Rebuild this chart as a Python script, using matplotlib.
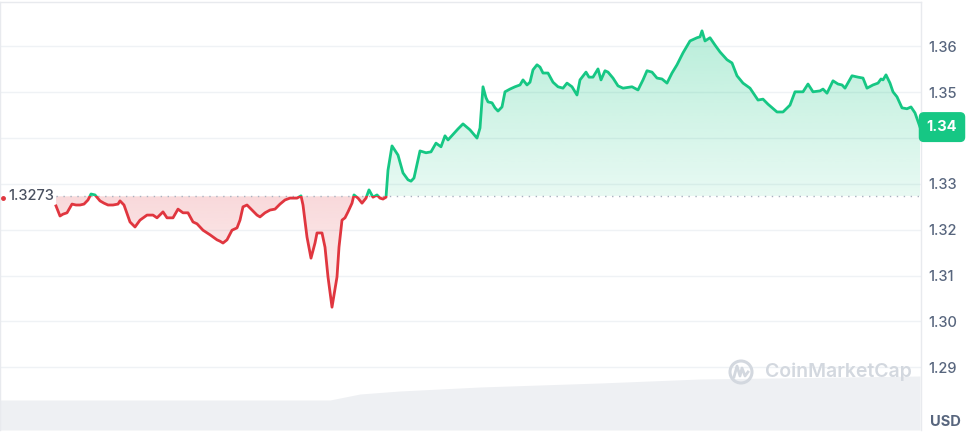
import numpy as np
import matplotlib.pyplot as plt
from matplotlib.path import Path
from matplotlib.patches import Rectangle, Ellipse
from matplotlib.lines import Line2D

plt.rcParams['font.family'] = ['Inter', 'DejaVu Sans']

# price samples (t = sample step from first point, roughly 1.7 min each)
t = [0, 4, 7, 11, 16, 20, 24, 28, 32, 35,
     39, 44, 48, 52, 57, 62, 64, 68, 74, 79,
     84, 91, 97, 101, 107, 111, 117, 122, 127, 132,
     137, 141, 147, 154, 161, 164, 167, 171, 176, 181,
     184, 187, 191, 196, 201, 204, 209, 214, 219, 224,
     229, 234, 241, 245, 247, 251, 255, 259, 261, 266,
     269, 272, 276, 281, 283, 286, 289, 292, 296, 298,
     302, 306, 310, 313, 317, 321, 324, 327, 330, 332,
     336, 342, 347, 352, 355, 358, 364, 370, 375, 380,
     385, 389, 392, 399, 402, 407, 414, 421, 424, 427,
     430, 432, 436, 439, 442, 446, 449, 454, 459, 464,
     467, 471, 474, 477, 481, 484, 487, 492, 497, 502,
     507, 511, 516, 521, 524, 530, 533, 537, 542, 545,
     549, 552, 557, 562, 567, 576, 582, 587, 591, 596,
     601, 606, 611, 616, 621, 627, 634, 641, 644, 646,
     649, 654, 659, 664, 671, 676, 681, 687, 694, 702,
     707, 712, 721, 727, 734, 739, 744, 747, 752, 757,
     764, 767, 771, 777, 782, 786, 789, 796, 802, 807,
     811, 817, 822, 825, 827, 830, 834, 837, 841, 846,
     851, 855, 859, 864]
price = [1.3252, 1.3230, 1.3234, 1.3237, 1.3256, 1.3254, 1.3254, 1.3256, 1.3265, 1.3278,
         1.3276, 1.3263, 1.3258, 1.3254, 1.3254, 1.3256, 1.3263, 1.3254, 1.3217, 1.3206,
         1.3221, 1.3232, 1.3232, 1.3226, 1.3239, 1.3226, 1.3226, 1.3245, 1.3237, 1.3237,
         1.3217, 1.3213, 1.3199, 1.3189, 1.3178, 1.3175, 1.3171, 1.3178, 1.3199, 1.3204,
         1.3221, 1.3250, 1.3254, 1.3243, 1.3232, 1.3228, 1.3237, 1.3243, 1.3245, 1.3256,
         1.3265, 1.3269, 1.3269, 1.3274, 1.3254, 1.3184, 1.3138, 1.3171, 1.3193, 1.3193,
         1.3162, 1.3097, 1.3031, 1.3097, 1.3162, 1.3221, 1.3226, 1.3239, 1.3258, 1.3276,
         1.3269, 1.3258, 1.3269, 1.3287, 1.3271, 1.3276, 1.3269, 1.3267, 1.3271, 1.3330,
         1.3383, 1.3363, 1.3324, 1.3309, 1.3306, 1.3313, 1.3372, 1.3368, 1.3370, 1.3389,
         1.3381, 1.3405, 1.3396, 1.3413, 1.3420, 1.3431, 1.3418, 1.3400, 1.3422, 1.3512,
         1.3488, 1.3479, 1.3477, 1.3466, 1.3459, 1.3468, 1.3501, 1.3507, 1.3512, 1.3516,
         1.3527, 1.3516, 1.3522, 1.3549, 1.3560, 1.3555, 1.3542, 1.3542, 1.3522, 1.3512,
         1.3509, 1.3520, 1.3512, 1.3494, 1.3527, 1.3544, 1.3533, 1.3533, 1.3551, 1.3527,
         1.3547, 1.3544, 1.3531, 1.3514, 1.3509, 1.3512, 1.3505, 1.3527, 1.3547, 1.3544,
         1.3531, 1.3529, 1.3520, 1.3542, 1.3560, 1.3586, 1.3612, 1.3619, 1.3621, 1.3634,
         1.3612, 1.3619, 1.3603, 1.3588, 1.3571, 1.3564, 1.3536, 1.3520, 1.3509, 1.3483,
         1.3485, 1.3474, 1.3457, 1.3457, 1.3472, 1.3501, 1.3501, 1.3501, 1.3518, 1.3501,
         1.3503, 1.3507, 1.3498, 1.3525, 1.3518, 1.3516, 1.3509, 1.3536, 1.3533, 1.3531,
         1.3509, 1.3516, 1.3520, 1.3529, 1.3527, 1.3538, 1.3520, 1.3501, 1.3490, 1.3466,
         1.3464, 1.3468, 1.3455, 1.3424]
assert len(t) == len(price)

open_price = 1.3273
open_label = "1.3273"
last_label = "1.34"
y_ticks = [1.29, 1.30, 1.31, 1.32, 1.33, 1.34, 1.35, 1.36]
y_labels = ["1.29", "1.30", "1.31", "1.32", "1.33", "", "1.35", "1.36"]

# background volume band (arbitrary units)
vol_t = [-56, 274, 304, 344, 424, 544, 644, 864]
vol = [30, 30, 36, 39, 43, 47, 51, 54]

GREEN = "#16c784"
RED = "#e0363f"
GRID = "#eff2f5"
TXT = "#58667e"

W, H = 978, 434
fig = plt.figure(figsize=(W / 100, H / 100), dpi=100)
rect = [0, 4 / H, 921 / W, 428 / H]

# volume band behind everything
axv = fig.add_axes(rect, zorder=0)
axv.fill_between(vol_t, vol, 0, color="#eef0f3", lw=0)
axv.set_xlim(-56, 865)
axv.set_ylim(0, 428)
axv.axis("off")

ax = fig.add_axes(rect, zorder=1)
ax.patch.set_alpha(0)
t_arr = np.array(t)
p_arr = np.array(price)


def grad_fill(mask, color, y_lo, y_hi, a_lo, a_hi):
    coll = ax.fill_between(t_arr, p_arr, open_price, where=mask, interpolate=True,
                           color="none", lw=0)
    path = Path.make_compound_path(*coll.get_paths())
    rgb = np.array(plt.matplotlib.colors.to_rgb(color))
    img = np.zeros((256, 1, 4))
    img[:, 0, :3] = rgb
    img[:, 0, 3] = np.linspace(a_lo, a_hi, 256)
    im = ax.imshow(img, extent=[t_arr[0], t_arr[-1], y_lo, y_hi], origin="lower",
                   aspect="auto", zorder=2, interpolation="bilinear")
    im.set_clip_path(path, transform=ax.transData)


grad_fill(p_arr >= open_price, GREEN, open_price, p_arr.max(), 0.10, 0.30)
grad_fill(p_arr <= open_price, RED, p_arr.min(), open_price, 0.06, 0.19)

# baseline at open price
ax.plot([t[0], t[-1]], [open_price, open_price], color="#a9b1bf", lw=1,
        linestyle=(0, (1, 4)), zorder=3)

above = Rectangle((-100, open_price), 1100, 1, transform=ax.transData)
below = Rectangle((-100, open_price - 1), 1100, 1, transform=ax.transData)
lg, = ax.plot(t, price, color=GREEN, lw=2.0, zorder=4, solid_joinstyle="round")
lg.set_clip_path(above)
lr, = ax.plot(t, price, color=RED, lw=2.0, zorder=4, solid_joinstyle="round")
lr.set_clip_path(below)

ax.set_xlim(-56, 865)
ax.set_ylim(1.2763, 1.3697)
ax.set_xticks([])
ax.yaxis.tick_right()
ax.set_yticks(y_ticks)
ax.set_yticklabels(y_labels)
ax.tick_params(axis="y", length=0, pad=5, labelsize=10.5, labelcolor=TXT)
for lab in ax.get_yticklabels():
    lab.set_fontweight("medium")
ax.grid(axis="y", color=GRID, lw=1)
ax.set_axisbelow(True)
for side in ["left", "top", "right"]:
    ax.spines[side].set_color("#e8eaee")
    ax.spines[side].set_linewidth(1)
ax.spines["bottom"].set_visible(False)

# open price label on the left
ax.text(-48, open_price, open_label, ha="left", va="center", fontsize=10.5,
        fontweight="medium", color="#4a5160", zorder=5)
ax.plot([-53], [open_price - 0.0004], marker="o", ms=2.5, color=RED, zorder=5,
        clip_on=False)

# current price badge
ax.text(942 / 921, price[-1], last_label, transform=ax.get_yaxis_transform(),
        ha="center", va="center", fontsize=10.5, fontweight="bold", color="white",
        bbox=dict(boxstyle="round,pad=0.5,rounding_size=0.3", fc=GREEN, ec=GREEN),
        zorder=6, clip_on=False)

fig.text(945 / W, 1 - 422 / H, "USD", ha="center", va="center", fontsize=10.5,
         fontweight="bold", color=TXT)

# watermark
wm = "#d3d8df"
fig.text(765 / W, 1 - 372 / H, "CoinMarketCap", ha="left", va="center",
         fontsize=14, fontweight="semibold", color=wm, zorder=3)
fig.add_artist(Ellipse((741 / W, 1 - 372 / H), 22 / W, 22 / H, fill=False,
                       ec=wm, lw=2.2, transform=fig.transFigure, zorder=3))
fig.add_artist(Line2D(np.array([734, 737, 740, 742, 745, 748]) / W,
                      1 - np.array([377, 366, 376, 368, 376, 372]) / H,
                      color=wm, lw=2, transform=fig.transFigure, zorder=3))

fig.savefig("out.png", dpi=100)
